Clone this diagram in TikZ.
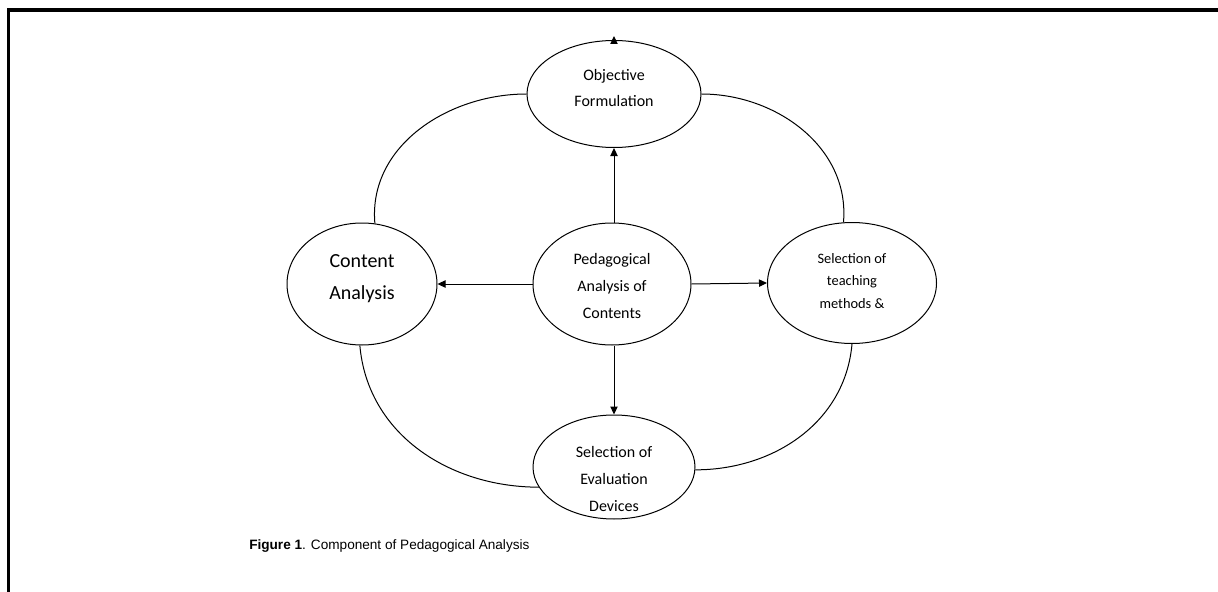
\documentclass[tikz,border=0pt]{standalone}
\usepackage{fontspec}
\setmainfont{Carlito}
\newfontfamily\capfont{Liberation Sans}
\usetikzlibrary{shapes.geometric,arrows.meta}
\tikzset{
  oval/.style={ellipse,draw,line width=0.75pt,inner sep=0pt},
  lbl/.style={align=center,inner sep=0pt},
  arr/.style={line width=0.75pt,-{Triangle[length=6pt,width=5.5pt]}},
  link/.style={line width=0.75pt}
}
\begin{document}
\begin{tikzpicture}[x=0.75pt,y=0.75pt]
\useasboundingbox (0,0) rectangle (1218,-592);
\draw[line width=2.4pt] (8.5,-594) -- (8.5,-10) -- (1220,-10);
% ellipses
\node[oval,minimum width=130.5pt,minimum height=80.25pt] (obj) at (614,-94) {};
\node[oval,minimum width=112.5pt,minimum height=91.5pt] (content) at (362,-284) {};
\node[oval,minimum width=118.5pt,minimum height=91.5pt] (ped) at (612,-284) {};
\node[oval,minimum width=126.75pt,minimum height=90.75pt] (teach) at (852,-283) {};
\node[oval,minimum width=121.5pt,minimum height=78pt] (eval) at (614,-467) {};
% texts
\node[lbl,font=\fontsize{12}{19.5}\selectfont] (objtxt) at (614,-88) {Objective\\Formulation};
\node[lbl,font=\fontsize{15}{24}\selectfont] (contenttxt) at (362,-279) {Content\\Analysis};
\node[lbl,font=\fontsize{12}{20}\selectfont] (pedtxt) at (612,-286) {Pedagogical\\Analysis of\\Contents};
\node[lbl,font=\fontsize{10.8}{17}\selectfont] (teachtxt) at (852,-281) {Selection of\\teaching\\methods \&};
\node[lbl,font=\fontsize{12}{20}\selectfont] (evaltxt) at (614,-479) {Selection of\\Evaluation\\Devices};
% straight arrows
\draw[arr] (obj.south |- ped.north) -- (obj.south);
\draw[arr] (ped.west) -- (content.east);
\draw[arr] (ped.east) -- (teach.west);
\draw[arr] (eval.north |- ped.south) -- (eval.north);
\coordinate (objtop) at (614,-36);
\draw[arr] (obj.north) -- (objtop);
% curved links
\draw[link] (obj.west) to[out=180,in=95] (content.78);
\draw[link] (obj.east) to[out=0,in=85] (teach.98);
\draw[link] (content.268) to[out=-85,in=180] (eval.195);
\draw[link] (teach.270) to[out=-95,in=0] (eval.358);
% caption
\node[anchor=base west,inner sep=0pt,font=\capfont\fontsize{10.2}{12}\selectfont] (cap) at (249,-549) {\textbf{Figure 1}. Component of Pedagogical Analysis};
\end{tikzpicture}
\end{document}
